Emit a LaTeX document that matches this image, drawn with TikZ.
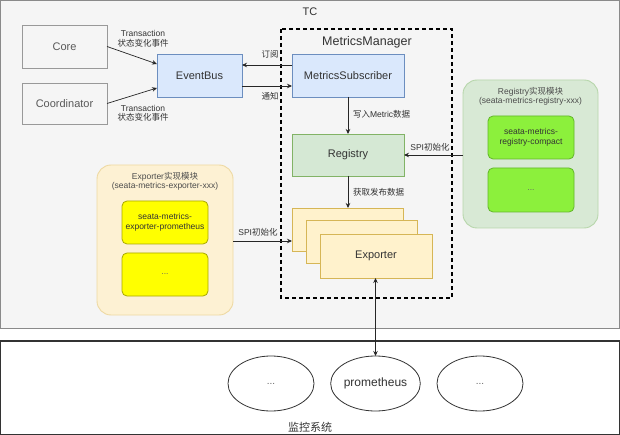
\documentclass[tikz,border=0pt]{standalone}
\usepackage{fontspec}
\setmainfont{Liberation Sans}
\newfontfamily\cjk{Noto Sans CJK SC}
\usetikzlibrary{arrows.meta,shapes.geometric}
\definecolor{tcfill}{HTML}{F5F5F5}
\definecolor{tcdraw}{HTML}{8A8A8A}
\definecolor{txt}{HTML}{333333}
\definecolor{bluefill}{HTML}{DAE8FC}
\definecolor{bluedraw}{HTML}{6C8EBF}
\definecolor{greenfill}{HTML}{D5E8D4}
\definecolor{greendraw}{HTML}{82B366}
\definecolor{yelfill}{HTML}{FFF2CC}
\definecolor{yeldraw}{HTML}{D6B656}
\definecolor{expmodfill}{HTML}{FDF1D3}
\definecolor{expmoddraw}{HTML}{EED9A2}
\definecolor{regmodfill}{HTML}{D8E9D5}
\definecolor{regmoddraw}{HTML}{B7D6AB}
\definecolor{brightyel}{HTML}{FFFF00}
\definecolor{brightyeldraw}{HTML}{A8A800}
\definecolor{lime}{HTML}{8CF03C}
\definecolor{limedraw}{HTML}{62B52A}
\definecolor{graybox}{HTML}{999999}
\begin{document}
\begin{tikzpicture}[x=1pt,y=-1pt,
  every node/.style={inner sep=0pt,outer sep=0pt,text=txt},
  box/.style={draw,rectangle,line width=0.8pt,align=center,font=\fontsize{11}{13}\selectfont},
  graynode/.style={box,fill=tcfill,draw=graybox,text=black!65},
  bluenode/.style={box,fill=bluefill,draw=bluedraw},
  greennode/.style={box,fill=greenfill,draw=greendraw},
  yelnode/.style={box,fill=yelfill,draw=yeldraw},
  modbox/.style={draw,rounded corners=14pt,line width=0.9pt},
  subbox/.style={box,rounded corners=5pt,font=\fontsize{8.5}{10}\selectfont},
  lbl/.style={font=\fontsize{8.5}{9.5}\selectfont,align=center},
  arr/.style={draw=black!85,line width=0.7pt,-{Stealth[length=5pt,width=4.5pt]}},
  arr2/.style={draw=black!85,line width=0.7pt,{Stealth[length=5pt,width=4.5pt]}-{Stealth[length=5pt,width=4.5pt]}},
  ell/.style={draw=black!80,ellipse,line width=0.8pt,fill=white,font=\fontsize{12}{14}\selectfont}
]
\useasboundingbox (0,0) rectangle (620,435);
\fill[white] (0,0) rectangle (620,435);
% outer boxes
\draw[fill=tcfill,draw=tcdraw,line width=1pt] (0.5,0.5) rectangle (619.5,328);
\node[font=\fontsize{11}{13}\selectfont] (tc) at (310,12) {TC};
\draw[fill=white,draw=black!80,line width=1.2pt] (0.6,341) rectangle (619.4,434.4);
\node[font=\fontsize{11}{13}\selectfont\cjk] (mon) at (310,427) {监控系统};

% MetricsManager
\draw[dashed,line width=1.4pt,dash pattern=on 4pt off 3pt] (281,29) rectangle (452,298);
\node[font=\fontsize{12.5}{14}\selectfont] (mmlbl) at (367,42) {MetricsManager};

% left nodes
\node[graynode,minimum width=85pt,minimum height=43pt] (core) at (64.5,46.5) {Core};
\node[graynode,minimum width=85pt,minimum height=41pt] (coord) at (64.5,103.5) {Coordinator};
\node[bluenode,minimum width=85pt,minimum height=43pt] (eb) at (199.5,75.5) {EventBus};
\node[bluenode,minimum width=112pt,minimum height=43pt] (ms) at (348,75.5) {MetricsSubscriber};
\node[greennode,minimum width=112pt,minimum height=42pt] (reg) at (348,155) {Registry};
\node[yelnode,minimum width=111pt,minimum height=43pt] (e1) at (347.5,229.5) {};
\node[yelnode,minimum width=111pt,minimum height=43pt] (e2) at (361.5,241.5) {};
\node[yelnode,minimum width=112pt,minimum height=44pt] (e3) at (376,256) {Exporter};

% exporter module
\draw[modbox,fill=expmodfill,draw=expmoddraw] (97,165) rectangle (233,315);
\coordinate (expmodE) at (233,241);
\node[lbl,text=black!70] (explbl) at (165,181.5) {Exporter{\cjk 实现模块}\\(seata-metrics-exporter-xxx)};
\node[subbox,fill=brightyel,draw=brightyeldraw,minimum width=86pt,minimum height=43pt] (exp1) at (165,222.5) {seata-metrics-\\exporter-prometheus};
\node[subbox,fill=brightyel,draw=brightyeldraw,minimum width=86pt,minimum height=43pt,text=black!60] (exp2) at (165,274.5) {...};

% registry module
\draw[modbox,fill=regmodfill,draw=regmoddraw] (463,80) rectangle (598,228);
\coordinate (regmodW) at (463,155);
\node[lbl,text=black!70] (reglbl) at (530.5,96.5) {Registry{\cjk 实现模块}\\(seata-metrics-registry-xxx)};
\node[subbox,fill=lime,draw=limedraw,minimum width=86pt,minimum height=43pt] (reg1) at (531,137.5) {seata-metrics-\\registry-compact};
\node[subbox,fill=lime,draw=limedraw,minimum width=86pt,minimum height=44pt,text=black!60] (reg2) at (531,190) {...};

% ellipses
\node[ell,minimum width=86pt,minimum height=55pt,font=\fontsize{10}{12}\selectfont,text=black!60] (ea) at (271,383.5) {...};
\node[ell,minimum width=85pt,minimum height=55pt] (prom) at (375.5,383.5) {prometheus};
\node[ell,minimum width=86pt,minimum height=55pt,font=\fontsize{10}{12}\selectfont,text=black!60] (ec) at (480,383.5) {...};

% connectors
\draw[arr] (core.east) -- ([yshift=11.5pt]eb.west);
\draw[arr] (coord.east) -- ([yshift=-12.5pt]eb.west);
\node[lbl] (l1) at (143,39) {Transaction\\{\cjk 状态变化事件}};
\node[lbl] (l2) at (143,113.5) {Transaction\\{\cjk 状态变化事件}};
\draw[arr] ([yshift=10.5pt]ms.west) -- ([yshift=10.5pt]eb.east);
\draw[arr] ([yshift=-10.5pt]eb.east) -- ([yshift=-10.5pt]ms.west);
\node[lbl,font=\fontsize{8.5}{9.5}\selectfont\cjk] (l3) at (270,54.5) {订阅};
\node[lbl,font=\fontsize{8.5}{9.5}\selectfont\cjk] (l4) at (270,96.5) {通知};
\draw[arr] (ms.south) -- (reg.north);
\node[lbl,anchor=west] (l5) at (353,114) {{\cjk 写入}Metric{\cjk 数据}};
\draw[arr] (regmodW) -- (regmodW -| reg.east);
\node[lbl] (l6) at (430,147) {SPI{\cjk 初始化}};
\draw[arr] (reg.south) -- (reg.south |- e1.north);
\node[lbl,anchor=west,font=\fontsize{8.5}{9.5}\selectfont\cjk] (l7) at (353,192) {获取发布数据};
\draw[arr] (expmodE) -- (expmodE -| e1.west);
\node[lbl] (l8) at (258,232) {SPI{\cjk 初始化}};
\draw[arr2] (prom.north) -- (prom.north |- e3.south);
\end{tikzpicture}
\end{document}
